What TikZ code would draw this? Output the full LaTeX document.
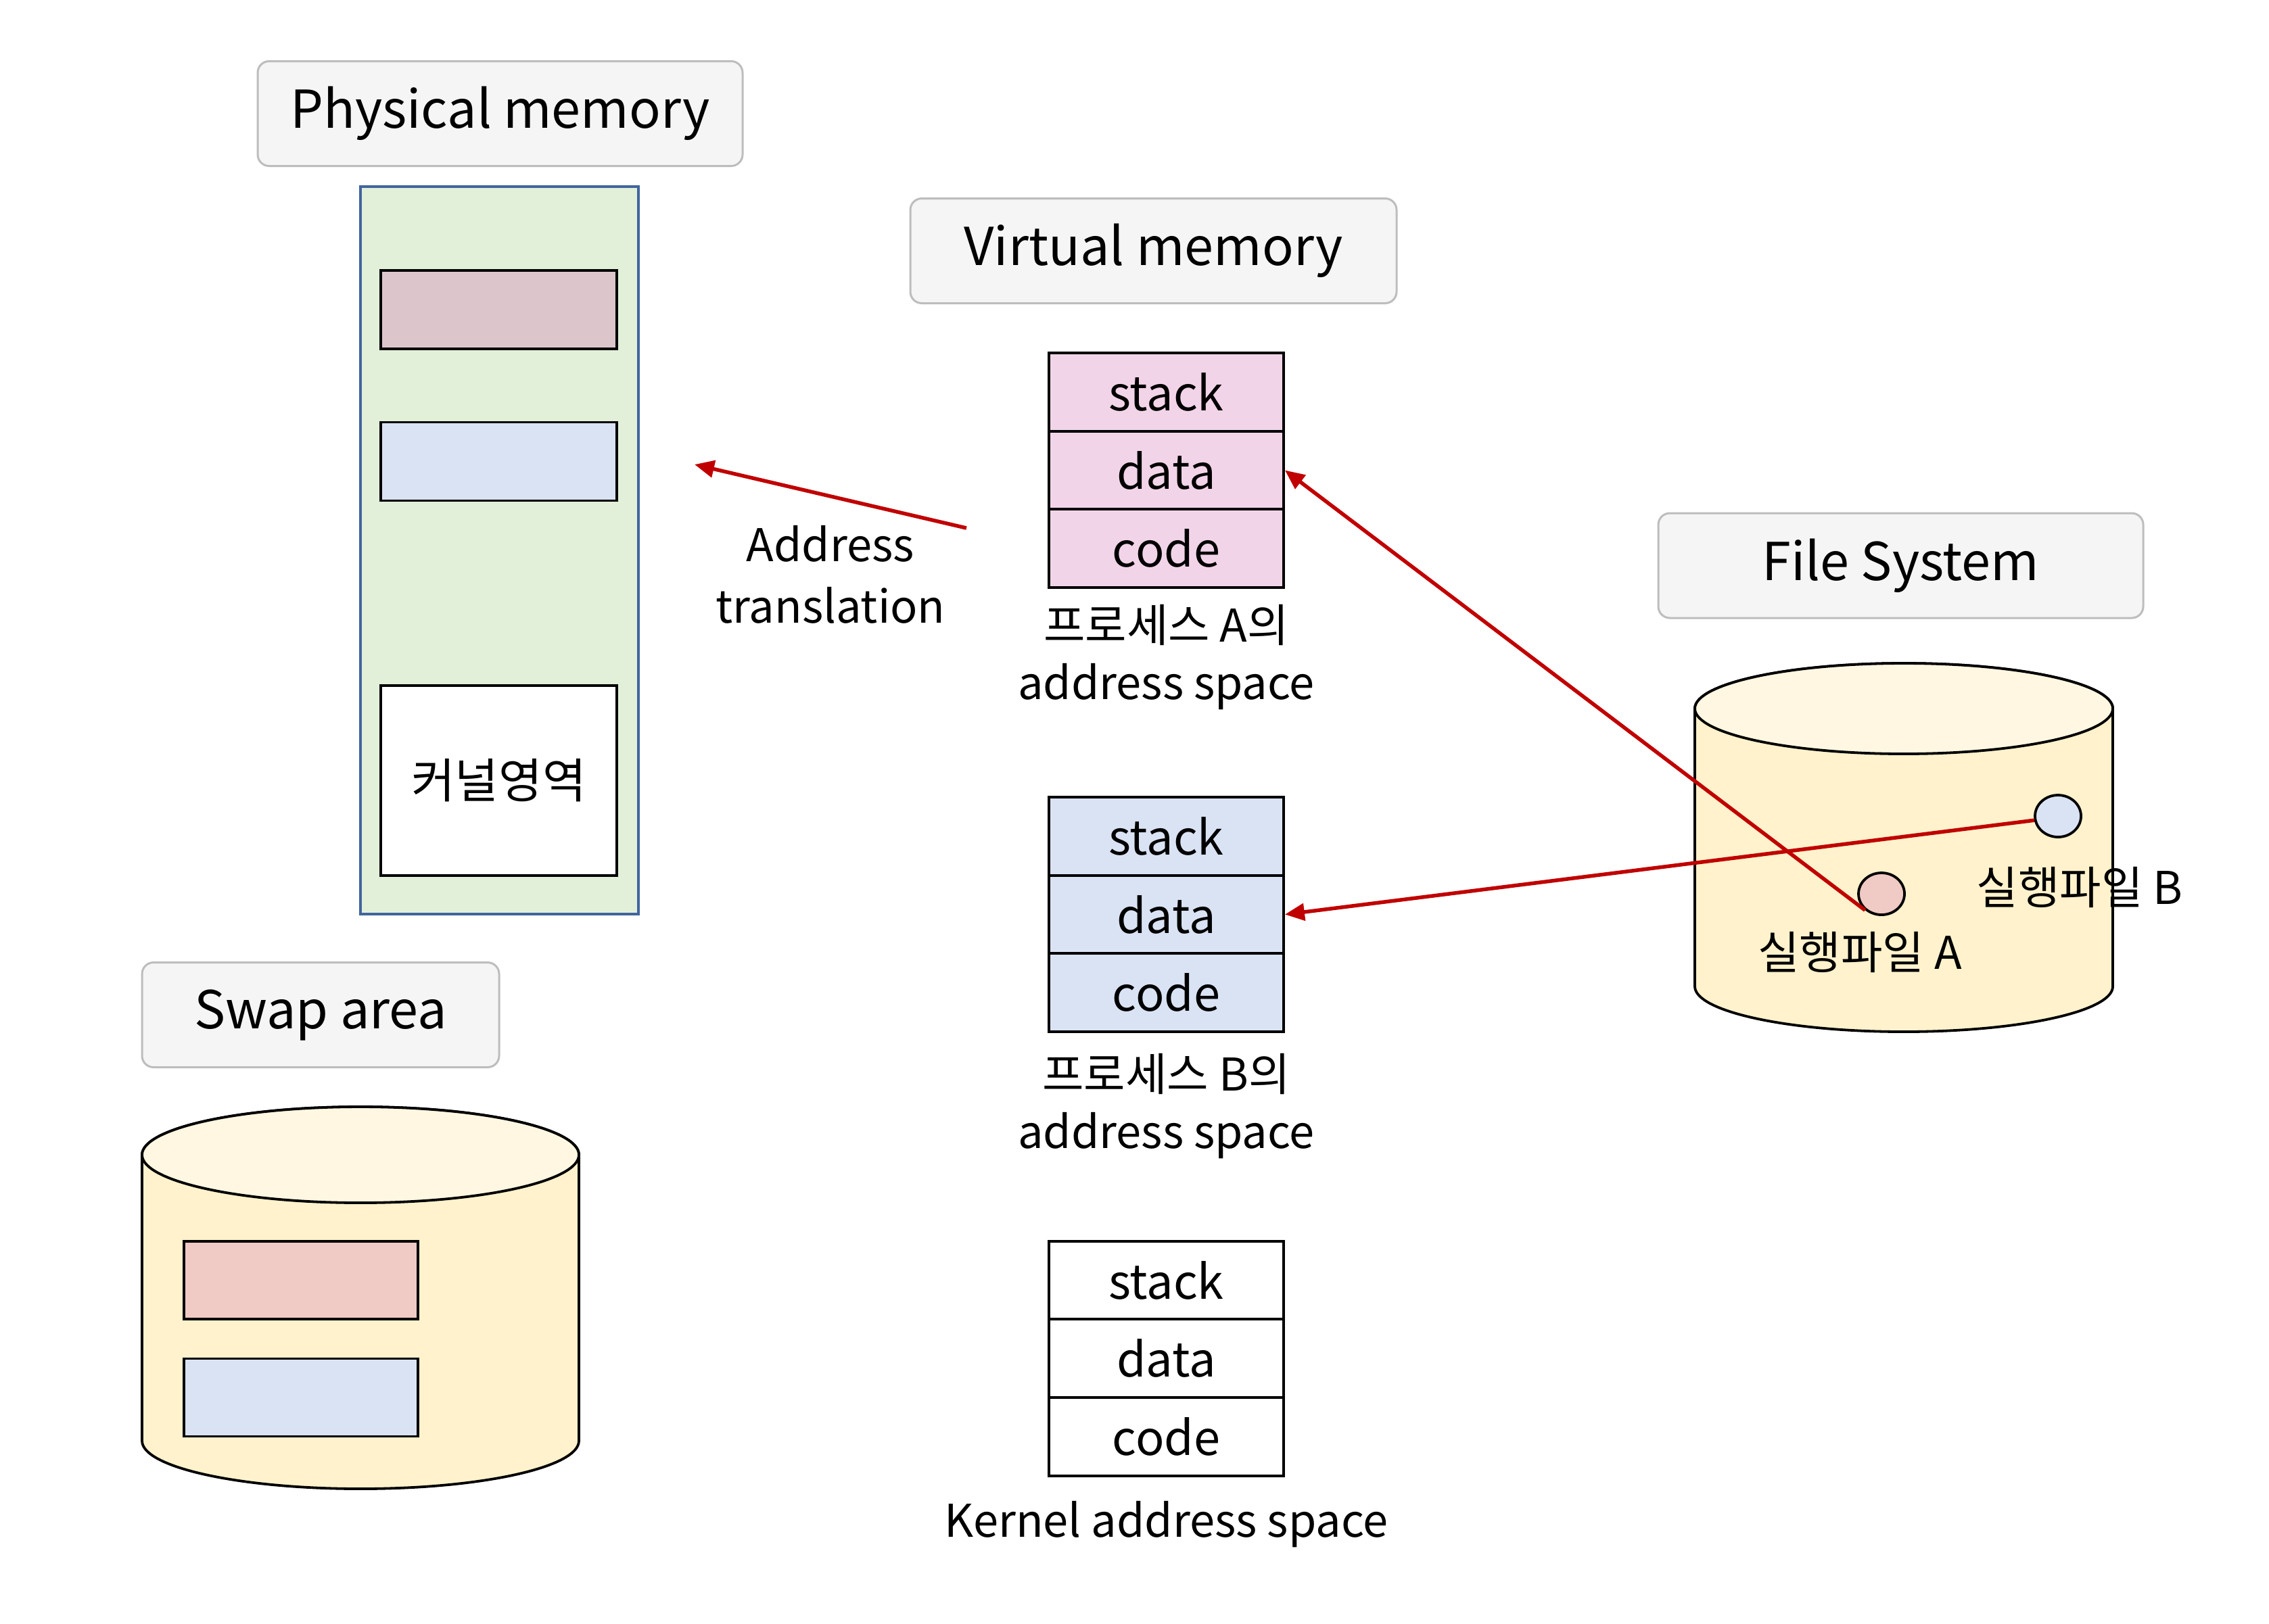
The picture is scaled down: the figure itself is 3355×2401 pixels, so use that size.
\documentclass[tikz,border=0pt]{standalone}
\usepackage{fontspec}
\setmainfont{Noto Sans CJK KR}
\usetikzlibrary{arrows.meta,shapes.geometric}
\definecolor{lblfill}{HTML}{F5F5F5}
\definecolor{lbldraw}{HTML}{BDBDBD}
\definecolor{pmfill}{HTML}{E2EFD9}
\definecolor{pmdraw}{HTML}{41659E}
\definecolor{mauve}{HTML}{DCC6CB}
\definecolor{bluef}{HTML}{DAE3F3}
\definecolor{pinkf}{HTML}{F2D4E8}
\definecolor{redf}{HTML}{F0CAC4}
\definecolor{cylbody}{HTML}{FFF2CC}
\definecolor{cyltop}{HTML}{FFF7E1}
\definecolor{arrred}{HTML}{C00000}
\tikzset{
  lbl/.style={draw=lbldraw, fill=lblfill, line width=0.3mm, rounded corners=1.7mm,
    minimum width=#1, minimum height=15.5mm, font=\fontsize{22pt}{26pt}\selectfont, inner sep=0pt},
  seg/.style={draw=black, line width=0.38mm, minimum width=34.7mm, minimum height=11.55mm,
    inner sep=0pt, font=\fontsize{20pt}{24pt}\selectfont},
  blk/.style={draw=black, line width=0.38mm, inner sep=0pt},
  captxt/.style={font=\fontsize{19pt}{23pt}\selectfont, inner sep=0pt},
  redarr/.style={draw=arrred, line width=0.55mm, -{Triangle[length=2.9mm, width=2.5mm]}},
  cylline/.style={draw=black, line width=0.38mm},
}
\begin{document}
\begin{tikzpicture}[x=0.1mm, y=-0.1mm]
\useasboundingbox (0,0) rectangle (3355,2401);

% Physical memory
\node[lbl=71.7mm] (pmlbl) at (739.5,168) {Physical memory};
\node[draw=pmdraw, fill=pmfill, line width=0.38mm, minimum width=41.1mm, minimum height=107.6mm, inner sep=0pt] (pm) at (738.5,814) {};
\node[blk, fill=mauve, minimum width=34.9mm, minimum height=11.6mm] (pm1) at (737.5,458) {};
\node[blk, fill=bluef, minimum width=34.9mm, minimum height=11.6mm] (pm2) at (737.5,682.5) {};
\node[blk, fill=white, minimum width=34.9mm, minimum height=28.1mm, font=\fontsize{20pt}{24pt}\selectfont] (kern) at (737.5,1154.5) {커널영역};

% Virtual memory
\node[lbl=71.9mm] (vmlbl) at (1705.5,371) {Virtual memory};

\node[seg, fill=pinkf] (as) at (1724.5,580) {stack};
\node[seg, fill=pinkf] (ad) at (1724.5,695.5) {data};
\node[seg, fill=pinkf] (ac) at (1724.5,811) {code};
\node[captxt] (acap1) at (1724.5,924) {프로세스 A의};
\node[captxt] (acap2) at (1724.5,1016) {address space};

\node[seg, fill=bluef] (bs) at (1724.5,1237) {stack};
\node[seg, fill=bluef] (bd) at (1724.5,1352.5) {data};
\node[seg, fill=bluef] (bc) at (1724.5,1468) {code};
\node[captxt] (bcap1) at (1724.5,1588) {프로세스 B의};
\node[captxt] (bcap2) at (1724.5,1680) {address space};

\node[seg, fill=white] (ks) at (1724.5,1893.5) {stack};
\node[seg, fill=white] (kd) at (1724.5,2009) {data};
\node[seg, fill=white] (kc) at (1724.5,2125) {code};
\node[captxt] (kcap) at (1724.5,2255) {Kernel address space};

% Address translation
\coordinate (at1) at (1429,781);
\coordinate (at2) at (1027,687);
\draw[redarr] (at1) -- (at2);
\node[captxt, align=center] (atlbl) at (1228,850) {Address\\[1mm]translation};

% File System
\node[lbl=71.7mm] (fslbl) at (2810.5,836.5) {File System};
\filldraw[cylline, fill=cylbody] (2506,1048) -- (2506,1459)
  arc[start angle=180, end angle=360, x radius=30.9mm, y radius=6.7mm]
  -- (3124,1048) arc[start angle=0, end angle=180, x radius=30.9mm, y radius=6.7mm] -- cycle;
\filldraw[cylline, fill=cyltop] (2815,1048) ellipse[x radius=30.9mm, y radius=6.7mm];
\node[ellipse, draw=black, line width=0.38mm, fill=bluef, minimum width=6.8mm, minimum height=6.2mm, inner sep=0pt] (ovb) at (3043,1207) {};
\node[ellipse, draw=black, line width=0.38mm, fill=redf, minimum width=6.8mm, minimum height=6.2mm, inner sep=0pt] (ova) at (2782,1322) {};
\node[captxt] (fbl) at (3075,1312) {실행파일 B};
\node[captxt] (fal) at (2750,1408) {실행파일 A};
\draw[redarr] (ova.225) -- (ad.east);
\draw[redarr] (ovb.190) -- (bd.east);

% Swap area
\node[lbl=52.8mm] (swlbl) at (474,1501) {Swap area};
\filldraw[cylline, fill=cylbody] (210,1708) -- (210,2131)
  arc[start angle=180, end angle=360, x radius=32.3mm, y radius=7.1mm]
  -- (856,1708) arc[start angle=0, end angle=180, x radius=32.3mm, y radius=7.1mm] -- cycle;
\filldraw[cylline, fill=cyltop] (533,1708) ellipse[x radius=32.3mm, y radius=7.1mm];
\node[blk, fill=redf, minimum width=34.6mm, minimum height=11.5mm] (sw1) at (445,1893.5) {};
\node[blk, fill=bluef, minimum width=34.6mm, minimum height=11.5mm] (sw2) at (445,2067) {};
\end{tikzpicture}
\end{document}
